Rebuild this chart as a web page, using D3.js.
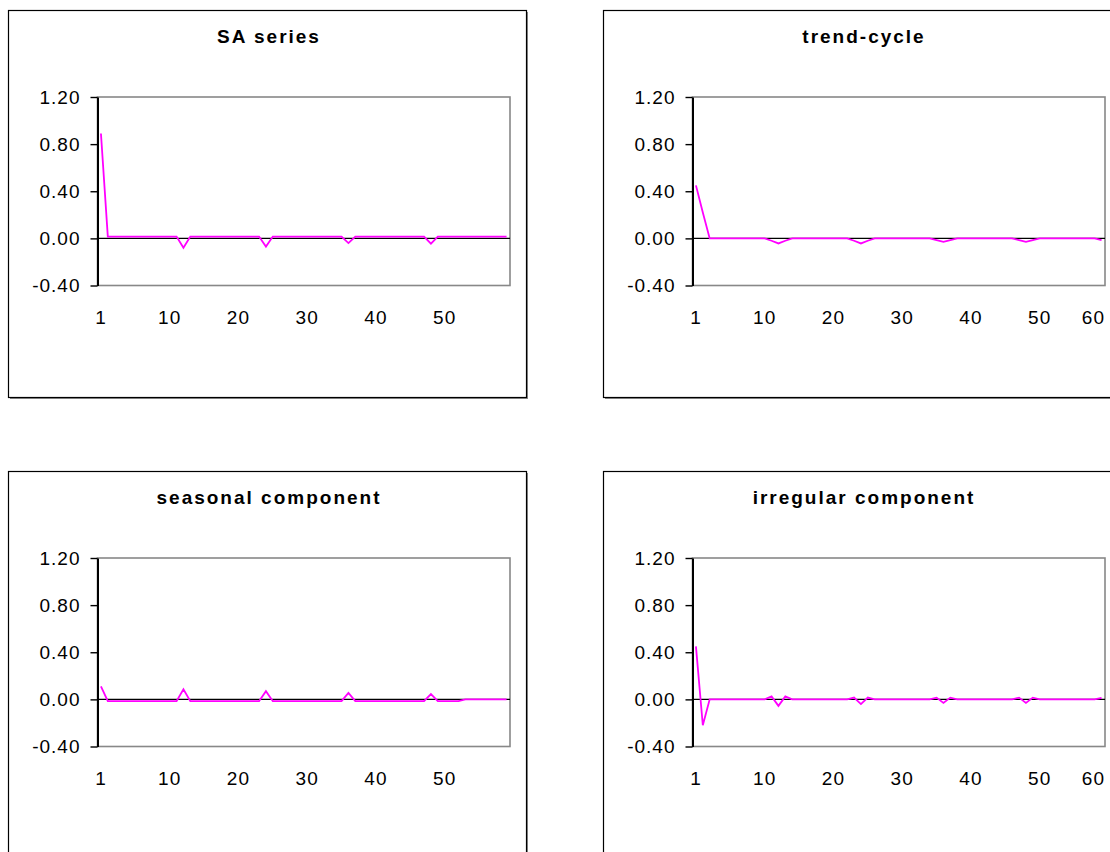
<!DOCTYPE html>
<html>
<head>
<meta charset="utf-8">
<script src="https://cdn.jsdelivr.net/npm/d3@7"></script>
<style>
  html, body { margin: 0; padding: 0; background: #fff; }
  svg { display: block; font-family: "Liberation Sans", Arial, Helvetica, sans-serif; }
</style>
</head>
<body>
<svg id="chart" width="1110" height="852"></svg>
<script>
// Lags 0..59 shown as 60 categories on each panel
const lags = d3.range(60);

const saSeries = [
  0.89,
  0.015, 0.015, 0.015, 0.015, 0.015, 0.015, 0.015, 0.015, 0.015, 0.015, 0.015,
  -0.08,
  0.015, 0.015, 0.015, 0.015, 0.015, 0.015, 0.015, 0.015, 0.015, 0.015, 0.015,
  -0.07,
  0.015, 0.015, 0.015, 0.015, 0.015, 0.015, 0.015, 0.015, 0.015, 0.015, 0.015,
  -0.04,
  0.015, 0.015, 0.015, 0.015, 0.015, 0.015, 0.015, 0.015, 0.015, 0.015, 0.015,
  -0.045,
  0.015, 0.015, 0.015, 0.015, 0.015, 0.015, 0.015, 0.015, 0.015, 0.015, 0.015
];

const trendCycle = [
  0.45, 0.22,
  0, 0, 0, 0, 0, 0, 0, 0, 0,
  -0.02, -0.043, -0.02,
  0, 0, 0, 0, 0, 0, 0, 0, 0,
  -0.02, -0.043, -0.02,
  0, 0, 0, 0, 0, 0, 0, 0, 0,
  -0.015, -0.03, -0.015,
  0, 0, 0, 0, 0, 0, 0, 0, 0,
  -0.015, -0.03, -0.015,
  0, 0, 0, 0, 0, 0, 0, 0, 0,
  -0.015
];

const seasonalComponent = [
  0.11,
  -0.015, -0.015, -0.015, -0.015, -0.015, -0.015, -0.015, -0.015, -0.015, -0.015, -0.015,
  0.085,
  -0.015, -0.015, -0.015, -0.015, -0.015, -0.015, -0.015, -0.015, -0.015, -0.015, -0.015,
  0.07,
  -0.015, -0.015, -0.015, -0.015, -0.015, -0.015, -0.015, -0.015, -0.015, -0.015, -0.015,
  0.055,
  -0.015, -0.015, -0.015, -0.015, -0.015, -0.015, -0.015, -0.015, -0.015, -0.015, -0.015,
  0.045,
  -0.015, -0.015, -0.015, -0.015,
  0, 0, 0, 0, 0, 0, 0
];

const irregularComponent = [
  0.45, -0.22,
  0, 0, 0, 0, 0, 0, 0, 0, 0,
  0.025, -0.055, 0.025,
  0, 0, 0, 0, 0, 0, 0, 0, 0,
  0.015, -0.04, 0.015,
  0, 0, 0, 0, 0, 0, 0, 0, 0,
  0.015, -0.03, 0.015,
  0, 0, 0, 0, 0, 0, 0, 0, 0,
  0.015, -0.03, 0.015,
  0, 0, 0, 0, 0, 0, 0, 0, 0,
  0.012
];

const yTicks = [-0.4, 0, 0.4, 0.8, 1.2];
const xTickLagsLeft = [0, 10, 20, 30, 40, 50];
const xTickLabelsLeft = ["1", "10", "20", "30", "40", "50"];
const xTickLagsRight = [0, 10, 20, 30, 40, 50, 60];
const xTickLabelsRight = ["1", "10", "20", "30", "40", "50", "60"];

const panels = [
  { title: "SA series", values: saSeries, ox: 8, oy: 10, tickLags: xTickLagsLeft, tickLabels: xTickLabelsLeft },
  { title: "trend-cycle", values: trendCycle, ox: 603, oy: 10, tickLags: xTickLagsRight, tickLabels: xTickLabelsRight },
  { title: "seasonal component", values: seasonalComponent, ox: 8, oy: 471, tickLags: xTickLagsLeft, tickLabels: xTickLabelsLeft },
  { title: "irregular component", values: irregularComponent, ox: 603, oy: 471, tickLags: xTickLagsRight, tickLabels: xTickLabelsRight }
];

const boxW = 518, boxH = 387;
const plot = { left: 89.5, top: 87, width: 412.5, height: 188.5 };

const svg = d3.select("#chart");

panels.forEach(p => {
  const g = svg.append("g").attr("transform", `translate(${p.ox},${p.oy})`);

  // chart frame with a thin drop shadow
  g.append("rect")
    .attr("x", 2).attr("y", 2).attr("width", boxW).attr("height", boxH)
    .attr("fill", "#8a8a8a");
  g.append("rect")
    .attr("x", 0.5).attr("y", 0.5).attr("width", boxW).attr("height", boxH)
    .attr("fill", "#fff").attr("stroke", "#000").attr("stroke-width", 1.2);

  g.append("text")
    .attr("x", boxW / 2 + 2).attr("y", 33)
    .attr("text-anchor", "middle")
    .attr("font-size", 19).attr("font-weight", "bold")
    .attr("letter-spacing", "2px")
    .attr("fill", "#000")
    .text(p.title);

  const pg = g.append("g").attr("transform", `translate(${plot.left},${plot.top})`);

  const x = d3.scaleBand().domain(lags).range([0, plot.width]);
  const cx = lag => x.step() * lag + x.step() / 2;
  const y = d3.scaleLinear().domain([-0.4, 1.2]).range([plot.height, 0]);

  // plot area border
  pg.append("rect")
    .attr("x", 0).attr("y", 0).attr("width", plot.width).attr("height", plot.height)
    .attr("fill", "none").attr("stroke", "#888").attr("stroke-width", 1.6);

  // zero line
  pg.append("line")
    .attr("x1", 0).attr("x2", plot.width)
    .attr("y1", y(0)).attr("y2", y(0))
    .attr("stroke", "#000").attr("stroke-width", 1.2);

  // value axis
  const yAxis = d3.axisLeft(y)
    .tickValues(yTicks)
    .tickFormat(d => d.toFixed(2))
    .tickSize(7).tickSizeOuter(0).tickPadding(10);
  const ya = pg.append("g").call(yAxis);
  ya.select(".domain").attr("stroke", "#000").attr("stroke-width", 2);
  ya.selectAll(".tick line").attr("stroke", "#000").attr("stroke-width", 1.4);
  ya.selectAll(".tick text")
    .attr("font-size", 19).attr("letter-spacing", "1px")
    .attr("fill", "#000")
    .style("font-family", "'Liberation Sans', Arial, sans-serif");

  // category labels
  const labels = pg.append("g").selectAll("text")
    .data(p.tickLags)
    .join("text")
    .attr("x", d => cx(d))
    .attr("y", plot.height + 38)
    .attr("text-anchor", "middle")
    .attr("font-size", 19).attr("letter-spacing", "1px")
    .attr("fill", "#000")
    .text((d, i) => p.tickLabels[i]);
  // keep the last label inside the plot's right edge
  labels.each(function(d) {
    const w = this.getComputedTextLength();
    const cur = cx(d);
    if (cur + w / 2 > plot.width) d3.select(this).attr("x", plot.width - w / 2);
  });

  // series line
  const line = d3.line()
    .x((d, i) => cx(lags[i]))
    .y(d => y(d));
  pg.append("path")
    .datum(p.values)
    .attr("d", line)
    .attr("fill", "none")
    .attr("stroke", "#ff00ff")
    .attr("stroke-width", 1.8)
    .attr("stroke-linejoin", "miter");
});
</script>
</body>
</html>
